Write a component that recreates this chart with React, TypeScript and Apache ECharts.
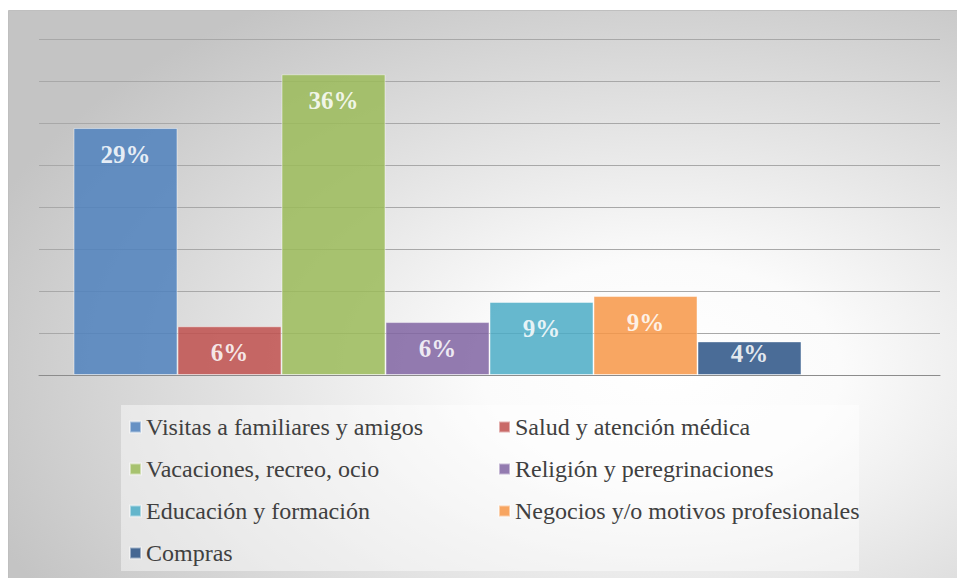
import React, { useEffect, useRef } from "react";
import * as echarts from "echarts";

const categories: string[] = [
  "Visitas a familiares y amigos",
  "Salud y atención médica",
  "Vacaciones, recreo, ocio",
  "Religión y peregrinaciones",
  "Educación y formación",
  "Negocios y/o motivos profesionales",
  "Compras",
];
const values: number[] = [29.4, 5.8, 35.8, 6.3, 8.7, 9.4, 4.0];
const colors: string[] = ["#4F81BD", "#C0504D", "#9BBB59", "#8064A2", "#4BACC6", "#F79646", "#2A5285"];
const legendCol1: string[] = [categories[0], categories[2], categories[4], categories[6]];
const legendCol2: string[] = [categories[1], categories[3], categories[5]];

const SERIF = "'Liberation Serif', 'Times New Roman', serif";

export default function App() {
  const ref = useRef<HTMLDivElement>(null);
  useEffect(() => {
    if (!ref.current) return;
    const chart = echarts.init(ref.current, null, { renderer: "svg" });
    const series: any[] = categories.map((name, i) => ({
      type: "bar",
      name,
      data: [values[i]],
      barWidth: 104,
      barGap: "0%",
      itemStyle: {
        color: colors[i],
        opacity: 0.85,
        borderColor: "rgba(255,255,255,0.55)",
        borderWidth: 1,
      },
      label: {
        show: true,
        position: "insideTop",
        distance: i === 6 ? 0 : 14,
        color: "#ffffff",
        fontFamily: SERIF,
        fontWeight: "bold",
        fontSize: 25,
        formatter: (p: any) => Math.round(p.value) + "%",
      },
    }));
    // spacer slot (empty) so the bar group sits left of centre as in the reference
    series.push({ type: "bar", name: "_spacer", data: [null], barWidth: 104, barGap: "0%" });

    chart.setOption({
      animation: false,
      graphic: [
        {
          type: "rect",
          z: -10,
          silent: true,
          shape: { x: 8.5, y: 10.5, width: 960, height: 580 },
          style: {
            fill: {
              type: "radial",
              x: 0.68,
              y: 0.62,
              r: 0.75,
              colorStops: [
                { offset: 0, color: "#ffffff" },
                { offset: 0.25, color: "#fbfbfb" },
                { offset: 1, color: "#c4c4c4" },
              ],
            },
            stroke: "#bfbfbf",
            lineWidth: 1,
          },
        },
        {
          type: "rect",
          z: -5,
          silent: true,
          shape: { x: 121, y: 405, width: 738, height: 166 },
          style: { fill: "rgba(255,255,255,0.45)" },
        },
      ],
      grid: { left: 39, right: 17, top: 39, bottom: 203 },
      xAxis: {
        type: "category",
        data: [""],
        axisLine: { show: true, lineStyle: { color: "#8c8c8c", width: 1 } },
        axisTick: { show: false },
        axisLabel: { show: false },
      },
      yAxis: {
        type: "value",
        min: 0,
        max: 40,
        interval: 5,
        axisLine: { show: false },
        axisTick: { show: false },
        axisLabel: { show: false },
        splitLine: { show: true, lineStyle: { color: "#a8a8a8", width: 1 } },
      },
      legend: [
        {
          data: legendCol1,
          orient: "vertical",
          left: 124,
          top: 410,
          itemWidth: 11,
          itemHeight: 11,
          itemGap: 18,
          icon: "rect",
          textStyle: { fontFamily: SERIF, fontSize: 24, color: "#404040" },
          selectedMode: false,
        },
        {
          data: legendCol2,
          orient: "vertical",
          left: 493,
          top: 410,
          itemWidth: 11,
          itemHeight: 11,
          itemGap: 18,
          icon: "rect",
          textStyle: { fontFamily: SERIF, fontSize: 24, color: "#404040" },
          selectedMode: false,
        },
      ],
      series,
    });
    return () => chart.dispose();
  }, []);
  return (
    <div
      ref={ref}
      style={{ position: "fixed", left: 0, top: 0, width: 957, height: 578, background: "#ffffff" }}
    />
  );
}
